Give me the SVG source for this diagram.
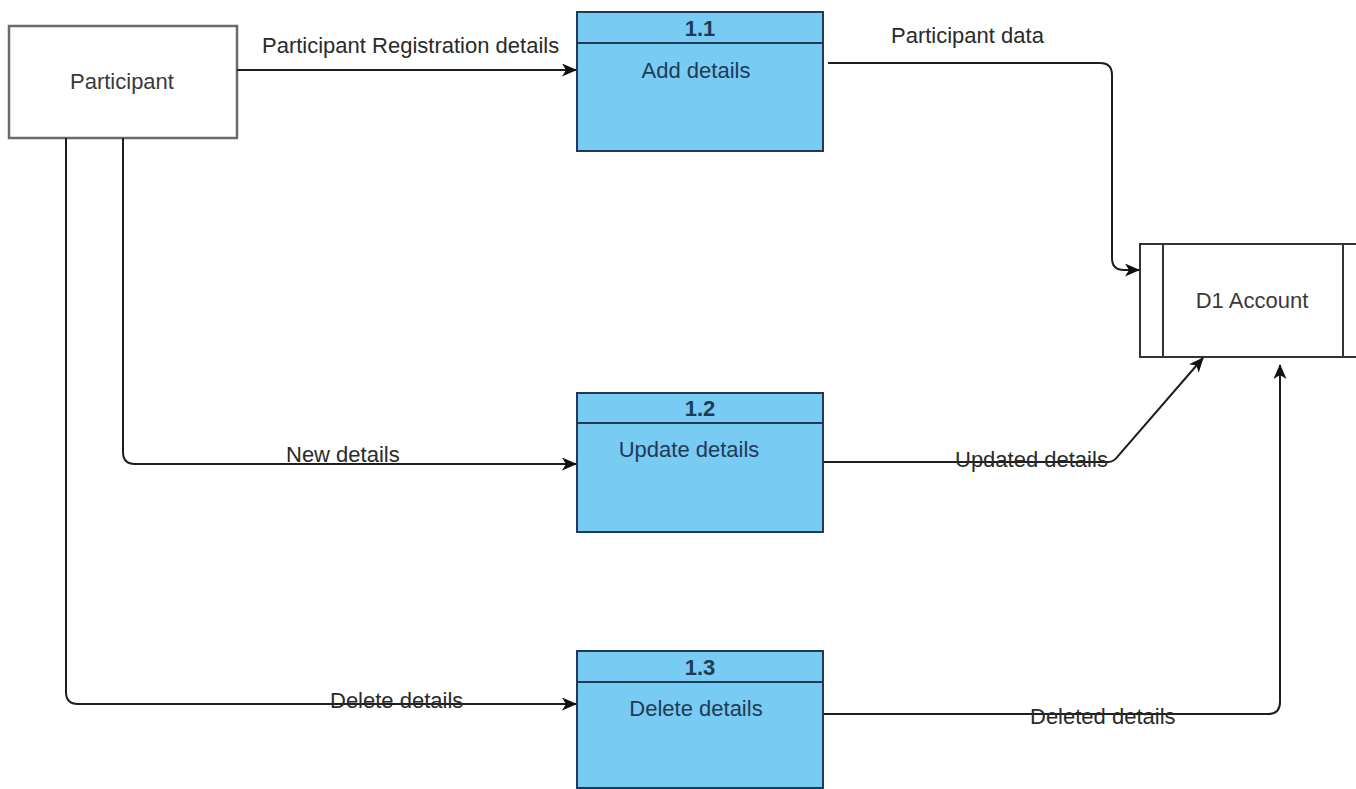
<svg xmlns="http://www.w3.org/2000/svg" width="1356" height="789" viewBox="0 0 1356 789">
  <style>
    .txt { font-family: "Liberation Sans", Arial, sans-serif; font-size: 22px; }
    .lbl { fill: #2a2a2a; }
    .ent { fill: #3a3a3a; }
    .proc-box { fill: #78cbf2; stroke: #1f3b57; stroke-width: 2; }
    .proc-txt { fill: #1f3b57; }
    .proc-num { font-weight: bold; }
    .store { fill: #ffffff; stroke: #333333; stroke-width: 2; }
    .flow { fill: none; stroke: #1e1e1e; stroke-width: 2; }
  </style>
  <defs>
    <marker id="arrow" viewBox="0 0 15 13" refX="14" refY="6.5" markerWidth="15" markerHeight="13" markerUnits="userSpaceOnUse" orient="auto">
      <path d="M0,0 L15,6.5 L0,13 L4,6.5 z" fill="#111111"/>
    </marker>
  </defs>
  <rect width="1356" height="789" fill="#ffffff"/>

  <!-- external entity -->
  <g id="participant">
    <rect x="9" y="26" width="228" height="112" fill="#ffffff" stroke="#6b6b6b" stroke-width="2.5"/>
    <text class="txt ent" x="122" y="89" text-anchor="middle">Participant</text>
  </g>

  <!-- processes -->
  <g id="p1-1">
    <rect class="proc-box" x="577" y="12" width="246" height="139"/>
    <line x1="577" y1="43" x2="823" y2="43" stroke="#1f3b57" stroke-width="2"/>
    <text class="txt proc-txt proc-num" x="700" y="36" text-anchor="middle">1.1</text>
    <text class="txt proc-txt" x="696" y="78" text-anchor="middle">Add details</text>
  </g>
  <g id="p1-2">
    <rect class="proc-box" x="577" y="393" width="246" height="139"/>
    <line x1="577" y1="423" x2="823" y2="423" stroke="#1f3b57" stroke-width="2"/>
    <text class="txt proc-txt proc-num" x="700" y="416" text-anchor="middle">1.2</text>
    <text class="txt proc-txt" x="689" y="457" text-anchor="middle">Update details</text>
  </g>
  <g id="p1-3">
    <rect class="proc-box" x="577" y="651" width="246" height="137"/>
    <line x1="577" y1="682" x2="823" y2="682" stroke="#1f3b57" stroke-width="2"/>
    <text class="txt proc-txt proc-num" x="700" y="675" text-anchor="middle">1.3</text>
    <text class="txt proc-txt" x="696" y="716" text-anchor="middle">Delete details</text>
  </g>

  <!-- data store -->
  <g id="d1-account">
    <rect class="store" x="1140" y="244" width="230" height="113"/>
    <line x1="1163" y1="244" x2="1163" y2="357" stroke="#333333" stroke-width="2"/>
    <line x1="1343" y1="244" x2="1343" y2="357" stroke="#333333" stroke-width="2"/>
    <text class="txt ent" x="1252" y="308" text-anchor="middle">D1 Account</text>
  </g>

  <!-- data flows -->
  <g id="flows">
    <path class="flow" d="M237,70 H576" marker-end="url(#arrow)"/>
    <path class="flow" d="M828,63 H1100 Q1112,63 1112,75 V258 Q1112,270 1124,270 H1139" marker-end="url(#arrow)"/>
    <path class="flow" d="M123,138 V452 Q123,464 135,464 H576" marker-end="url(#arrow)"/>
    <path class="flow" d="M66,138 V692 Q66,704 78,704 H576" marker-end="url(#arrow)"/>
    <path class="flow" d="M824,462 H1108 Q1114,462 1118,456 L1203,358" marker-end="url(#arrow)"/>
    <path class="flow" d="M824,714 H1268 Q1280,714 1280,702 V365" marker-end="url(#arrow)"/>

    <text class="txt lbl" x="262" y="53">Participant Registration details</text>
    <text class="txt lbl" x="891" y="43">Participant data</text>
    <text class="txt lbl" x="286" y="462">New details</text>
    <text class="txt lbl" x="955" y="467">Updated details</text>
    <text class="txt lbl" x="330" y="708">Delete details</text>
    <text class="txt lbl" x="1030" y="724">Deleted details</text>
  </g>
</svg>
